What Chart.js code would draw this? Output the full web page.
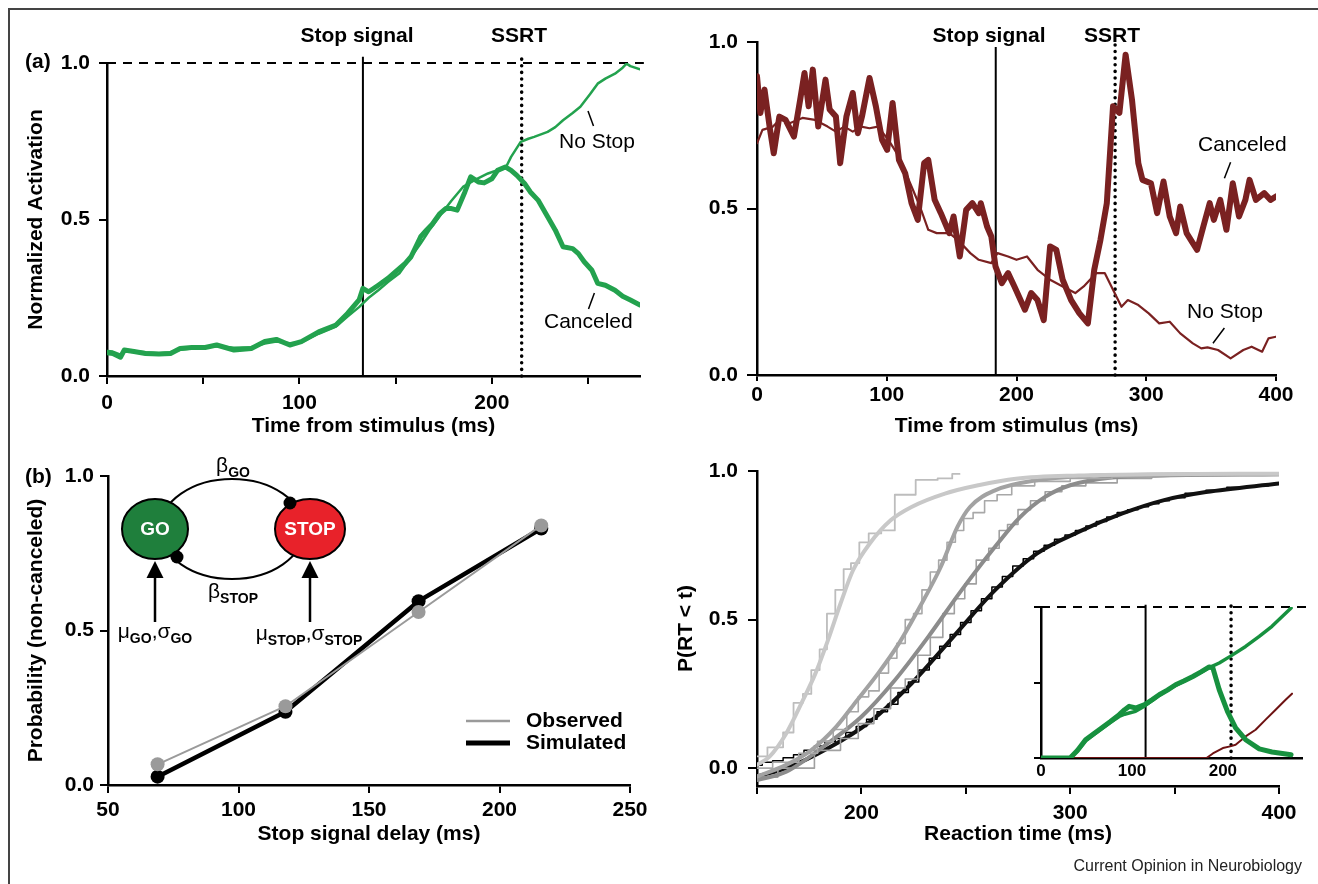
<!DOCTYPE html>
<html lang="en">
<head>
<meta charset="UTF-8">
<title>Stop signal race model</title>
<script src="https://cdn.jsdelivr.net/npm/chart.js"></script>
<style>
  html, body { margin: 0; padding: 0; background: #fff; overflow: hidden; }
  #fig { position: relative; width: 1318px; height: 884px; overflow: hidden; }
  #frame { position: absolute; left: 8px; top: 8px; width: 1330px; height: 900px;
           border-top: 2px solid #444; border-left: 2px solid #444; }
  canvas { position: absolute; }
</style>
</head>
<body>
<div id="fig">
  <div id="frame"></div>
  <canvas id="chartA" width="660" height="440" style="left:0;top:0"></canvas>
  <canvas id="chartB" width="658" height="440" style="left:660px;top:0"></canvas>
  <canvas id="chartC" width="660" height="444" style="left:0;top:440px"></canvas>
  <canvas id="chartD" width="658" height="444" style="left:660px;top:440px"></canvas>
  <canvas id="chartE" width="318" height="200" style="left:1000px;top:590px"></canvas>
</div>

<script>
// ---- panel (a) left : GO unit activation (ms, normalized) ----
var aCanceledT = [0, 3, 7, 9, 14, 20, 27, 33, 38, 44, 51, 57, 66, 75, 82, 88, 95, 101, 110, 119, 125, 131, 133,
  136, 141, 146, 150, 155, 158, 163, 166, 169, 173, 176, 179, 182, 186, 189, 193, 196, 200, 203, 207, 210, 213,
  217, 220, 224, 229, 233, 237, 242, 245, 248, 252, 255, 259, 264, 268, 272, 277];
var aCanceled = [0.074, 0.072, 0.060, 0.083, 0.078, 0.072, 0.070, 0.072, 0.088, 0.091, 0.091, 0.099, 0.083, 0.088,
  0.110, 0.117, 0.099, 0.110, 0.141, 0.163, 0.200, 0.243, 0.280,
  0.269, 0.290, 0.312, 0.333, 0.360, 0.381, 0.445, 0.466, 0.485, 0.519, 0.535, 0.535, 0.530, 0.588, 0.636, 0.620,
  0.617, 0.630, 0.657, 0.668, 0.657, 0.641, 0.615, 0.588, 0.562, 0.509, 0.466, 0.413, 0.407, 0.391, 0.365, 0.338,
  0.296, 0.290, 0.274, 0.255, 0.243, 0.227];
var aNoStopT = [0, 3, 7, 9, 14, 20, 27, 33, 38, 44, 51, 57, 66, 75, 82, 88, 95, 101, 110, 119, 125, 131, 133,
  136, 141, 146, 152, 158, 163, 168, 174, 179, 185, 191, 198, 204, 207, 210, 215, 219, 222, 229, 233, 237, 242,
  246, 251, 255, 259, 264, 268, 270, 272, 277];
var aNoStop = [0.080, 0.078, 0.068, 0.080, 0.080, 0.076, 0.073, 0.076, 0.084, 0.088, 0.094, 0.095, 0.090, 0.092,
  0.104, 0.110, 0.105, 0.107, 0.135, 0.158, 0.190, 0.220, 0.232,
  0.250, 0.274, 0.300, 0.328, 0.380, 0.423, 0.470, 0.520, 0.560, 0.604, 0.626, 0.647, 0.660, 0.663, 0.700, 0.748,
  0.758, 0.764, 0.780, 0.795, 0.817, 0.840, 0.860, 0.900, 0.934, 0.950, 0.966, 0.985, 0.998, 0.990, 0.980];
var aEvents = [133, 215.5];       // stop signal, SSRT
var aThreshold = [1.0];

// ---- panel (a) right : STOP-related neuron ----
var bCanceledT = [0, 2.6, 5.8, 9.7, 12.9, 17.2, 22, 28.5, 33.3, 36.6, 39.8, 43, 47.2, 52.8, 56, 60.8, 64.1, 68.9,
  73.8, 77.7, 80.9, 86.7, 91.6, 96.4, 100.3, 104.5, 109.4, 114.2, 119.1, 123.9, 128.8, 132, 136.9, 141.7, 148.2,
  151.5, 156.3, 161.2, 166, 170.9, 172.5, 177.3, 180.6, 183.8, 188.7, 193.5, 198.4, 206.5, 211.3, 216.2, 221,
  225.9, 230.7, 235.6, 242.1, 248.5, 255, 259.9, 264.7, 269.6, 274.4, 279.3, 284.1, 289, 293.9, 297.1, 303.6,
  308.4, 313.3, 318.1, 323, 326.2, 331.1, 335.9, 339.2, 344, 348.9, 352.1, 357, 361.8, 366.7, 371.5, 376.4, 379.6,
  384.5, 390.9, 395.8, 400];
var bCanceled = [0.897, 0.787, 0.857, 0.746, 0.666, 0.776, 0.766, 0.716, 0.827, 0.907, 0.807, 0.917, 0.746, 0.887,
  0.797, 0.776, 0.636, 0.776, 0.847, 0.726, 0.776, 0.892, 0.807, 0.706, 0.676, 0.817, 0.646, 0.606, 0.516, 0.466,
  0.636, 0.646, 0.526, 0.486, 0.426, 0.476, 0.356, 0.496, 0.516, 0.486, 0.516, 0.446, 0.416, 0.326, 0.276, 0.306,
  0.266, 0.196, 0.246, 0.225, 0.165, 0.386, 0.376, 0.286, 0.225, 0.185, 0.155, 0.316, 0.406, 0.516, 0.807, 0.787,
  0.962, 0.827, 0.636, 0.586, 0.576, 0.486, 0.581, 0.476, 0.426, 0.506, 0.426, 0.396, 0.376, 0.446, 0.516, 0.466,
  0.526, 0.436, 0.576, 0.476, 0.526, 0.586, 0.526, 0.546, 0.526, 0.536];
var bNoStopT = [0, 4.2, 12.3, 18.8, 25.2, 35, 44.7, 54.4, 60.8, 67.3, 73.8, 80.3, 86.7, 93.2, 101.3, 109.4, 119.1,
  125.6, 132, 138.5, 148.2, 154.7, 164.4, 170.9, 180.6, 185.4, 193.5, 200, 208.1, 216.2, 225.9, 235.6, 245.3,
  251.8, 261.5, 268, 274.4, 280.9, 285.8, 293.9, 301.9, 310, 318.1, 326.2, 335.9, 342.4, 347.2, 355.3, 365,
  374.8, 381.2, 389.3, 394.2, 400];
var bNoStop = [0.696, 0.736, 0.746, 0.772, 0.756, 0.772, 0.766, 0.746, 0.731, 0.746, 0.731, 0.746, 0.741, 0.746,
  0.706, 0.656, 0.566, 0.506, 0.436, 0.426, 0.426, 0.406, 0.366, 0.346, 0.336, 0.366, 0.356, 0.346, 0.356, 0.316,
  0.286, 0.266, 0.246, 0.266, 0.306, 0.306, 0.256, 0.205, 0.225, 0.210, 0.185, 0.155, 0.160, 0.125, 0.095, 0.080,
  0.083, 0.075, 0.050, 0.075, 0.085, 0.070, 0.110, 0.115];
var bEvents = [184, 276];

// ---- panel (b) left : inhibition function ----
var ssd = [69, 118, 169, 216];
var pObserved = [0.067, 0.255, 0.56, 0.84];
var pSimulated = [0.027, 0.237, 0.595, 0.83];

// ---- panel (b) right : RT distributions (smooth = simulated, stepped = observed) ----
var lightFitT = [150, 156, 164, 172, 178, 184, 190, 196, 204, 214, 224, 240, 256, 274, 304, 340, 400];
var lightFit = [0.011, 0.039, 0.117, 0.229, 0.319, 0.431, 0.554, 0.666, 0.756, 0.834, 0.879, 0.924, 0.952, 0.974, 0.985, 0.989, 0.991];
var lightObsT = [150, 160, 165, 170, 174, 178, 182, 185, 190, 193, 197, 201, 206, 213, 219, 233, 240, 247];
var lightObs = [0.04, 0.07, 0.12, 0.22, 0.25, 0.33, 0.40, 0.52, 0.60, 0.67, 0.69, 0.76, 0.79, 0.80, 0.92, 0.97, 0.975, 0.99];
var midAFitT = [150, 164, 176, 188, 198, 208, 218, 228, 238, 246, 252, 264, 284, 314, 350, 400];
var midAFit = [-0.028, 0.011, 0.061, 0.14, 0.229, 0.319, 0.42, 0.543, 0.677, 0.812, 0.879, 0.935, 0.969, 0.985, 0.988, 0.989];
var midAObsT = [150, 165, 175, 183, 190, 196, 201, 206, 211, 215, 219, 223, 227, 231, 235, 239, 243, 247, 251, 256, 262, 268, 276, 290, 310, 330, 348];
var midAObs = [0.0, 0.02, 0.05, 0.09, 0.13, 0.19, 0.24, 0.26, 0.32, 0.37, 0.42, 0.50, 0.52, 0.60, 0.66, 0.70, 0.76, 0.80, 0.84, 0.86, 0.90, 0.92, 0.95, 0.965, 0.975, 0.98, 0.99];
var midBFitT = [150, 164, 184, 200, 216, 232, 248, 264, 276, 288, 300, 320, 345, 400];
var midBFit = [-0.04, -0.012, 0.084, 0.173, 0.296, 0.442, 0.599, 0.745, 0.845, 0.913, 0.952, 0.978, 0.985, 0.989];
var midBObsT = [150, 170, 185, 195, 202, 210, 218, 224, 230, 236, 242, 247, 252, 258, 264, 268, 272, 278, 284, 292, 300, 315, 330, 348];
var midBObs = [-0.03, 0.0, 0.06, 0.10, 0.15, 0.20, 0.27, 0.30, 0.38, 0.44, 0.52, 0.57, 0.62, 0.70, 0.74, 0.80, 0.82, 0.87, 0.90, 0.93, 0.95, 0.96, 0.975, 0.985];
var blackFitT = [150, 164, 184, 204, 224, 244, 264, 284, 304, 325, 345, 365, 400];
var blackFit = [-0.028, 0.0, 0.067, 0.156, 0.285, 0.442, 0.599, 0.722, 0.795, 0.857, 0.902, 0.929, 0.958];
var blackObsT = [150, 155, 160, 165, 170, 175, 180, 185, 190, 195, 200, 205, 210, 215, 220, 225, 230, 235, 240,
  245, 250, 255, 260, 265, 270, 275, 280, 285, 290, 295, 300, 305, 310, 315, 320, 325, 330, 335, 340, 345, 350,
  360, 370, 380, 390, 400];
var blackObs = [0.01, 0.02, 0.025, 0.035, 0.045, 0.06, 0.075, 0.09, 0.10, 0.12, 0.14, 0.165, 0.19, 0.215, 0.255,
  0.29, 0.33, 0.37, 0.41, 0.45, 0.49, 0.53, 0.57, 0.61, 0.645, 0.68, 0.705, 0.73, 0.75, 0.77, 0.785, 0.80, 0.815,
  0.83, 0.845, 0.86, 0.87, 0.88, 0.89, 0.90, 0.91, 0.925, 0.935, 0.945, 0.95, 0.955];

// ---- inset : model GO / STOP units ----
var inGoCancT = [0, 32, 40, 49, 58, 67, 76, 86, 92, 97, 104, 114, 122, 130, 139, 148, 157, 167, 176, 185, 189, 196, 205, 214, 225, 240, 254, 275];
var inGoCanc = [0, 0, 0.05, 0.12, 0.16, 0.2, 0.24, 0.287, 0.32, 0.342, 0.331, 0.353, 0.385, 0.419, 0.45, 0.485, 0.51, 0.54, 0.57, 0.603, 0.596, 0.452, 0.309, 0.199, 0.121, 0.06, 0.04, 0.022];
var inGoNoStopT = [0, 32, 40, 49, 58, 67, 76, 86, 92, 97, 104, 114, 122, 130, 139, 148, 157, 167, 176, 185, 196, 208, 225, 240, 254, 275];
var inGoNoStop = [0, 0, 0.045, 0.115, 0.155, 0.195, 0.235, 0.275, 0.29, 0.298, 0.309, 0.345, 0.38, 0.415, 0.448, 0.48, 0.508, 0.538, 0.568, 0.598, 0.629, 0.673, 0.739, 0.805, 0.872, 0.993];
var inStopT = [0, 182, 189, 200, 208, 214, 225, 236, 247, 258, 269, 276];
var inStop = [0, 0, 0.03, 0.066, 0.077, 0.088, 0.143, 0.187, 0.254, 0.32, 0.386, 0.426];
var inEvents = [115, 209];

Chart.defaults.font.family = "'Liberation Sans', Arial, sans-serif";
Chart.defaults.font.size = 21;
Chart.defaults.font.weight = 'bold';
Chart.defaults.color = '#000';
Chart.defaults.animation = false;
Chart.defaults.plugins.legend.display = false;
Chart.defaults.plugins.tooltip.enabled = false;

function xy(xs, ys) {
  return xs.map(function (x, i) { return { x: x, y: ys[i] }; });
}

function line(xs, ys, color, width, extra) {
  var ds = { data: xy(xs, ys), borderColor: color, borderWidth: width, pointRadius: 0,
    tension: 0, borderJoinStyle: 'round', borderCapStyle: 'round' };
  return Object.assign(ds, extra || {});
}

function vline(x, top, dotted) {
  return { data: [{ x: x, y: 0 }, { x: x, y: top }], borderColor: '#000', pointRadius: 0, clip: false,
    borderWidth: dotted ? 3.5 : 2, borderDash: dotted ? [0.1, 6.5] : [], borderCapStyle: dotted ? 'round' : 'butt' };
}

function hline(y, x0, x1) {
  return { data: [{ x: x0, y: y }, { x: x1, y: y }], borderColor: '#000', borderWidth: 2,
    borderDash: [9, 7], pointRadius: 0, clip: false };
}

function axis(o) {
  return {
    type: 'linear', min: o.min, max: o.max,
    afterFit: function (s) { if (s.isHorizontal()) s.height = o.size; else s.width = o.size; },
    border: { display: true, color: '#000', width: 2.5 },
    grid: { drawOnChartArea: false, color: '#000', lineWidth: 2, tickLength: o.tick || 8, drawTicks: o.tick !== 0 },
    ticks: { stepSize: o.step, includeBounds: false, padding: o.pad, autoSkip: false, maxRotation: 0,
      display: o.labels !== false, callback: o.fmt, font: o.font },
    title: o.title ? { display: true, text: o.title, padding: o.titlePad } : { display: false }
  };
}

function fixed1(v) { return v.toFixed(1); }
function hundreds(v) { return v % 100 === 0 ? v : ''; }

function text(ctx, s, x, y, align, weight, size) {
  ctx.font = (weight || 'normal') + ' ' + (size || 21) + "px 'Liberation Sans', Arial, sans-serif";
  ctx.textAlign = align || 'left';
  ctx.textBaseline = 'middle';
  ctx.fillStyle = '#000';
  ctx.fillText(s, x, y);
}

function stroke(ctx, x0, y0, x1, y1, w) {
  ctx.beginPath();
  ctx.moveTo(x0, y0);
  ctx.lineTo(x1, y1);
  ctx.lineWidth = w || 1.5;
  ctx.strokeStyle = '#000';
  ctx.stroke();
}

// symbol with subscript, returns total width
function subText(ctx, parts, x, y, measureOnly) {
  var cx = x;
  parts.forEach(function (p) {
    ctx.font = p.sub ? "bold 14px 'Liberation Sans', Arial, sans-serif" : "normal 21px 'Liberation Sans', Arial, sans-serif";
    ctx.textAlign = 'left';
    ctx.textBaseline = 'alphabetic';
    ctx.fillStyle = '#000';
    if (!measureOnly) ctx.fillText(p.t, cx, p.sub ? y + 5 : y);
    cx += ctx.measureText(p.t).width;
  });
  return cx - x;
}
function centeredSub(ctx, parts, cx, y) {
  var w = subText(ctx, parts, 0, y, true);
  subText(ctx, parts, cx - w / 2, y, false);
}

// ---------- chart A ----------
new Chart(document.getElementById('chartA'), {
  type: 'line',
  data: { datasets: [
    line(aCanceledT, aCanceled, '#23a24e', 5),
    line(aNoStopT, aNoStop, '#23a24e', 2.5),
    vline(aEvents[0], 1.02, false),
    vline(aEvents[1], 1.015, true),
    hline(aThreshold[0], 0, 279)
  ] },
  options: {
    responsive: false,
    layout: { padding: { left: 24, right: 20, top: 63, bottom: 0 } },
    scales: {
      x: axis({ min: 0, max: 277, step: 50, size: 64, pad: 7, fmt: hundreds, title: 'Time from stimulus (ms)', titlePad: { top: 0, bottom: 1 } }),
      y: axis({ min: 0, max: 1, step: 0.5, size: 83, pad: 9, fmt: fixed1, title: 'Normalized Activation', titlePad: 0 })
    }
  },
  plugins: [{ id: 'notesA', afterDraw: function (chart) {
    var ctx = chart.ctx; ctx.save();
    text(ctx, 'Stop signal', 357, 36, 'center', 'bold');
    text(ctx, 'SSRT', 519, 36, 'center', 'bold');
    text(ctx, '(a)', 25, 62, 'left', 'bold');
    text(ctx, 'No Stop', 559, 142);
    text(ctx, 'Canceled', 544, 322);
    stroke(ctx, 588, 111, 593.5, 126);
    stroke(ctx, 594.4, 293, 588.5, 309);
    ctx.restore();
  } }]
});

// ---------- chart B ----------
new Chart(document.getElementById('chartB'), {
  type: 'line',
  data: { datasets: [
    line(bCanceledT, bCanceled, '#7a2121', 6),
    line(bNoStopT, bNoStop, '#7a2121', 2.2),
    vline(bEvents[0], 0.985, false),
    vline(bEvents[1], 1.0, true)
  ] },
  options: {
    responsive: false,
    layout: { padding: { left: 20, right: 42, top: 42, bottom: 0 } },
    scales: {
      x: axis({ min: 0, max: 400, step: 100, size: 65, pad: 2, tick: 6, title: 'Time from stimulus (ms)', titlePad: { top: 0, bottom: 1 } }),
      y: axis({ min: 0, max: 1, step: 0.5, size: 77, pad: 9, tick: 10, fmt: fixed1 })
    }
  },
  plugins: [{ id: 'notesB', afterDraw: function (chart) {
    var ctx = chart.ctx; ctx.save();
    text(ctx, 'Stop signal', 329, 36, 'center', 'bold');
    text(ctx, 'SSRT', 452, 36, 'center', 'bold');
    text(ctx, 'Canceled', 538, 145);
    text(ctx, 'No Stop', 527, 312);
    stroke(ctx, 570.6, 162.3, 564.4, 178.3);
    stroke(ctx, 564.4, 328, 553, 343.3);
    ctx.restore();
  } }]
});

// ---------- chart C ----------
function drawDiagram(ctx) {
  var oy = -440;
  ctx.save();
  ctx.strokeStyle = '#000';
  ctx.lineWidth = 2;
  ctx.beginPath(); ctx.ellipse(232, 529 + oy, 72, 50, 0, 0, Math.PI * 2); ctx.stroke();
  [[155, 33, '#1f7f3c', 'GO'], [310, 35, '#e8222a', 'STOP']].forEach(function (n) {
    ctx.beginPath(); ctx.ellipse(n[0], 529 + oy, n[1], 30, 0, 0, Math.PI * 2);
    ctx.fillStyle = n[2]; ctx.fill(); ctx.lineWidth = 2; ctx.stroke();
    ctx.font = "bold 19px 'Liberation Sans', Arial, sans-serif";
    ctx.fillStyle = '#fff'; ctx.textAlign = 'center'; ctx.textBaseline = 'middle';
    ctx.fillText(n[3], n[0], 530 + oy);
  });
  ctx.fillStyle = '#000';
  [[290, 503], [177, 557]].forEach(function (d) {
    ctx.beginPath(); ctx.arc(d[0], d[1] + oy, 6.5, 0, Math.PI * 2); ctx.fill();
  });
  [155, 310].forEach(function (ax) {
    stroke(ctx, ax, 622 + oy, ax, 575 + oy, 2.5);
    ctx.beginPath();
    ctx.moveTo(ax - 8.5, 578 + oy); ctx.lineTo(ax + 8.5, 578 + oy); ctx.lineTo(ax, 561 + oy); ctx.closePath();
    ctx.fill();
  });
  centeredSub(ctx, [{ t: 'β' }, { t: 'GO', sub: true }], 233, 472 + oy);
  centeredSub(ctx, [{ t: 'β' }, { t: 'STOP', sub: true }], 233, 598 + oy);
  centeredSub(ctx, [{ t: 'μ' }, { t: 'GO', sub: true }, { t: ',' }, { t: 'σ' }, { t: 'GO', sub: true }], 155, 638 + oy);
  centeredSub(ctx, [{ t: 'μ' }, { t: 'STOP', sub: true }, { t: ',' }, { t: 'σ' }, { t: 'STOP', sub: true }], 309, 640 + oy);
  ctx.restore();
}

new Chart(document.getElementById('chartC'), {
  type: 'line',
  data: { datasets: [
    line(ssd, pObserved, '#9a9a9a', 2, { pointRadius: 7, pointBackgroundColor: '#9a9a9a', pointBorderWidth: 0 }),
    line(ssd, pSimulated, '#000', 4.5, { pointRadius: 7, pointBackgroundColor: '#000', pointBorderWidth: 0 })
  ] },
  options: {
    responsive: false,
    layout: { padding: { left: 24, right: 30, top: 36, bottom: 0 } },
    scales: {
      x: axis({ min: 50, max: 250, step: 50, size: 99, pad: 5, title: 'Stop signal delay (ms)', titlePad: { top: 0, bottom: 37 } }),
      y: axis({ min: 0, max: 1, step: 0.5, size: 84, pad: 6, fmt: fixed1, title: 'Probability (non-canceled)', titlePad: 0 })
    }
  },
  plugins: [{ id: 'notesC', afterDraw: function (chart) {
    var ctx = chart.ctx; ctx.save();
    text(ctx, '(b)', 25, 37, 'left', 'bold');
    ctx.lineCap = 'butt';
    ctx.beginPath(); ctx.moveTo(466, 281); ctx.lineTo(510, 281); ctx.strokeStyle = '#9a9a9a'; ctx.lineWidth = 2.5; ctx.stroke();
    ctx.beginPath(); ctx.moveTo(466, 303); ctx.lineTo(510, 303); ctx.strokeStyle = '#000'; ctx.lineWidth = 5; ctx.stroke();
    text(ctx, 'Observed', 526, 281, 'left', 'bold');
    text(ctx, 'Simulated', 526, 303, 'left', 'bold');
    drawDiagram(ctx);
    ctx.restore();
  } }]
});

// ---------- chart D ----------
new Chart(document.getElementById('chartD'), {
  type: 'line',
  data: { datasets: [
    line(lightFitT, lightFit, '#c8c8c8', 4, { cubicInterpolationMode: 'monotone' }),
    line(lightObsT, lightObs, '#bdbdbd', 1.8, { stepped: 'middle' }),
    line(midAFitT, midAFit, '#a2a2a2', 4, { cubicInterpolationMode: 'monotone' }),
    line(midAObsT, midAObs, '#a8a8a8', 1.6, { stepped: 'middle' }),
    line(midBFitT, midBFit, '#8c8c8c', 4, { cubicInterpolationMode: 'monotone' }),
    line(midBObsT, midBObs, '#a0a0a0', 1.6, { stepped: 'middle' }),
    line(blackFitT, blackFit, '#111', 4, { cubicInterpolationMode: 'monotone' }),
    line(blackObsT, blackObs, '#000', 1.5, { stepped: 'middle' })
  ] },
  options: {
    responsive: false,
    layout: { padding: { left: 14, right: 39, top: 31, bottom: 0 } },
    scales: {
      x: axis({ min: 150, max: 400, step: 50, size: 98, pad: 7, fmt: hundreds, title: 'Reaction time (ms)', titlePad: { top: 0, bottom: 37 } }),
      y: axis({ min: -0.06, max: 1, step: 0.5, size: 83, pad: 10, tick: 9, fmt: fixed1, title: 'P(RT < t)', titlePad: 0 })
    }
  },
  plugins: [{ id: 'notesD', afterDraw: function (chart) {
    var ctx = chart.ctx; ctx.save();
    ctx.font = "normal 16px 'Liberation Sans', Arial, sans-serif";
    ctx.fillStyle = '#222'; ctx.textAlign = 'right'; ctx.textBaseline = 'middle';
    ctx.fillText('Current Opinion in Neurobiology', 642, 427);
    ctx.restore();
  } }]
});

// ---------- chart E (inset) ----------
new Chart(document.getElementById('chartE'), {
  type: 'line',
  data: { datasets: [
    line(inGoCancT, inGoCanc, '#17913f', 5),
    line(inGoNoStopT, inGoNoStop, '#17913f', 3.5),
    line(inStopT, inStop, '#6e1212', 2),
    vline(inEvents[0], 1.015, false),
    vline(inEvents[1], 1.048, true),
    hline(1, 0, 296)
  ] },
  options: {
    responsive: false,
    layout: { padding: { left: 21, right: 16, top: 17, bottom: 0 } },
    scales: {
      x: axis({ min: 0, max: 287, step: 100, size: 32, pad: 3, tick: 0, font: { size: 17 } }),
      y: axis({ min: 0, max: 1, step: 0.5, size: 20, pad: 2, tick: 7, labels: false })
    }
  }
});
</script>
</body>
</html>
